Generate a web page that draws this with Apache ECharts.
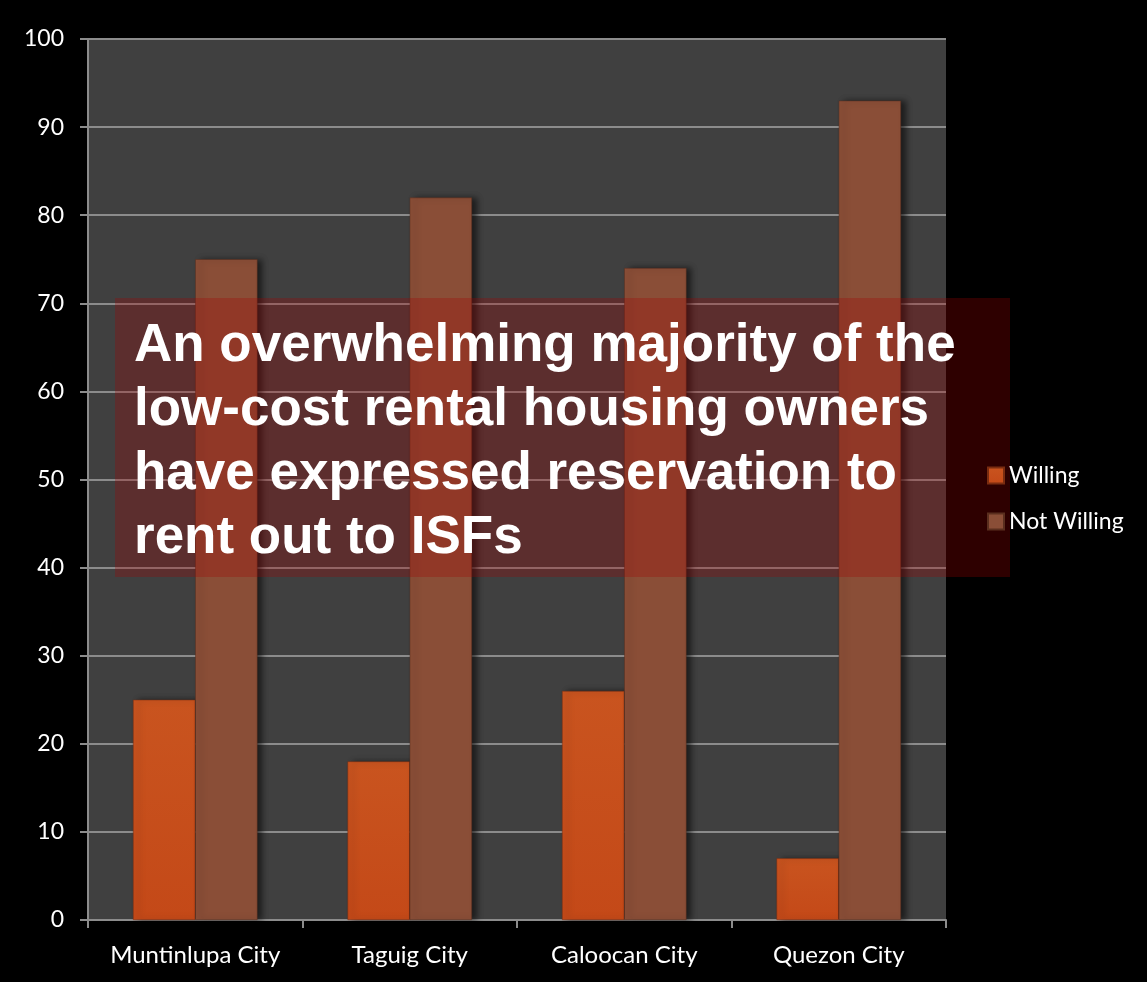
<!DOCTYPE html>
<html>
<head>
<meta charset="utf-8">
<script src="https://cdn.jsdelivr.net/npm/echarts@6/dist/echarts.min.js"></script>
<style>
html,body{margin:0;padding:0;background:#000;}
#c{width:1147px;height:982px;}
</style>
</head>
<body>
<div id="c"></div>
<script>
const categories = ['Muntinlupa City', 'Taguig City', 'Caloocan City', 'Quezon City'];
const seriesNames = ['Willing', 'Not Willing'];
const willing = [25, 18, 26, 7];
const notWilling = [75, 82, 74, 93];
const overlayLines = ['An overwhelming majority of the', 'low-cost rental housing owners', 'have expressed reservation to', 'rent out to ISFs'];

const chart = echarts.init(document.getElementById('c'));
const barShadow = {shadowColor: 'rgba(0,0,0,0.55)', shadowBlur: 6, shadowOffsetX: 5};
chart.setOption({
  backgroundColor: '#000',
  animation: false,
  grid: {left: 88, right: 201, top: 39, bottom: 62, show: true, backgroundColor: '#404040', borderWidth: 0},
  legend: {
    orient: 'vertical', left: 982, top: 459, itemWidth: 16, itemHeight: 16, itemGap: 23, z: 200,
    data: seriesNames,
    textStyle: {color: '#fff', fontSize: 23, fontFamily: 'Lato'},
    icon: 'rect'
  },
  xAxis: {
    type: 'category', data: categories,
    axisLine: {lineStyle: {color: '#8c8c8c', width: 2}},
    axisTick: {show: true, length: 8, interval: 0, lineStyle: {color: '#8c8c8c', width: 2}},
    axisLabel: {color: '#fff', fontSize: 24, fontFamily: 'Lato', margin: 23, interval: 0, hideOverlap: false},
    splitLine: {show: false}
  },
  yAxis: {
    type: 'value', min: 0, max: 100, interval: 10,
    axisLine: {show: true, lineStyle: {color: '#8c8c8c', width: 2}},
    axisTick: {show: true, length: 8, lineStyle: {color: '#8c8c8c', width: 2}},
    axisLabel: {color: '#fff', fontSize: 23, fontFamily: 'Lato', margin: 24},
    splitLine: {show: true, lineStyle: {color: '#8c8c8c', width: 2}}
  },
  series: [
    {name: seriesNames[0], type: 'bar', data: willing, barGap: '0%', barCategoryGap: '42%',
     itemStyle: Object.assign({color: new echarts.graphic.LinearGradient(0,0,0,1,[{offset:0,color:'#c9541f'},{offset:1,color:'#c44918'}]), borderColor: '#7a2c10', borderWidth: 0.5}, barShadow)},
    {name: seriesNames[1], type: 'bar', data: notWilling,
     itemStyle: Object.assign({color: '#8a4e37', borderColor: '#5a2e1e', borderWidth: 0.5}, barShadow)}
  ],
  graphic: [
    {type: 'rect', left: 115, top: 298, z: 100, shape: {width: 895, height: 279}, style: {fill: 'rgba(164,0,0,0.28)'}},
    {type: 'text', left: 134, top: 314, z: 101,
     style: {text: overlayLines.join('\n'), fill: '#fff', font: 'bold 53px "Liberation Sans", Arial, sans-serif', lineHeight: 64}}
  ]
});
</script>
</body>
</html>
